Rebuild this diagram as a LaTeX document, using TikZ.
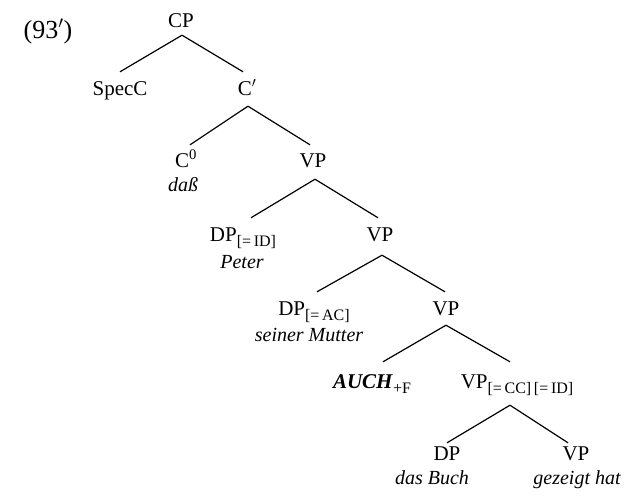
\documentclass[tikz,border=0pt]{standalone}
\usepackage{fontspec}
\setmainfont{Liberation Serif}
\usetikzlibrary{calc}
\newcommand{\lsub}[1]{\raisebox{-5pt}{\fontsize{16}{16}\selectfont #1}}
\begin{document}
\begin{tikzpicture}[x=1pt,y=-1pt,
  lab/.style={inner sep=0pt, anchor=base, font=\fontsize{21}{23}\selectfont, text height=13pt, text depth=0pt},
  word/.style={inner sep=0pt, anchor=base, font=\fontsize{20}{22}\selectfont\itshape},
  br/.style={line width=1.2pt}]
\useasboundingbox (0,0) rectangle (626,495);
\node[lab, font=\fontsize{26}{28}\selectfont] (ex) at (48,38) {(93$'$)};
\node[lab] (CP) at (181,28) {CP};
\node[lab] (SpecC) at (120,95) {SpecC};
\node[lab] (Cbar) at (247,95) {C$'$};
\node[lab] (C0) at (186,167) {C\textsuperscript{0}};
\node[word] (dass) at (183,191) {daß};
\node[lab] (VP1) at (313,167) {VP};
\node[lab] (DPid) at (243,241) {DP\lsub{[=\,ID]}};
\node[word] (peter) at (242,268) {Peter};
\node[lab] (VP2) at (380,241) {VP};
\node[lab] (DPac) at (314,315) {DP\lsub{[=\,AC]}};
\node[word] (mutter) at (309,341) {seiner Mutter};
\node[lab] (VP3) at (446,315) {VP};
\node[lab] (auch) at (372,388) {\textbf{\textit{AUCH}}\lsub{+F}};
\node[lab] (VPcc) at (517,388) {VP\lsub{[=\,CC]\,[=\,ID]}};
\node[lab] (DP) at (447,460) {DP};
\node[word] (buch) at (432,484) {das Buch};
\node[lab] (VP4) at (576,460) {VP};
\node[word] (gezeigt) at (577,484) {gezeigt hat};
\draw[br] ($(CP.south)+(1,7)$) -- ($(SpecC.north)+(0,-10)$);
\draw[br] ($(CP.south)+(1,7)$) -- ($(Cbar.north)+(-4,-10)$);
\draw[br] ($(Cbar.south)+(1,11)$) -- ($(C0.north)+(4,-9)$);
\draw[br] ($(Cbar.south)+(1,11)$) -- ($(VP1.north)+(-3,-9)$);
\draw[br] ($(VP1.south)+(2,12)$) -- ($(DPid.north)+(8,-10)$);
\draw[br] ($(VP1.south)+(2,12)$) -- ($(VP2.north)+(-2,-10)$);
\draw[br] ($(VP2.south)+(2,14)$) -- ($(DPac.north)+(3,-10)$);
\draw[br] ($(VP2.south)+(2,14)$) -- ($(VP3.north)+(-1,-10)$);
\draw[br] ($(VP3.south)+(0,10)$) -- ($(auch.north)+(11,-13)$);
\draw[br] ($(VP3.south)+(0,10)$) -- ($(VPcc.north)+(-7,-13)$);
\draw[br] ($(VPcc.south)+(-7,17)$) -- ($(DP.north)+(0,-4)$);
\draw[br] ($(VPcc.south)+(-7,17)$) -- ($(VP4.north)+(-8,-4)$);
\end{tikzpicture}
\end{document}
